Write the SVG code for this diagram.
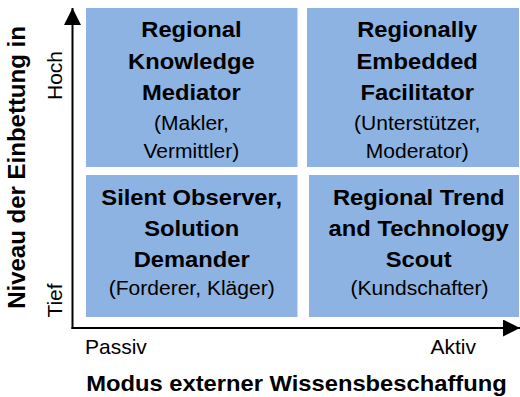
<svg xmlns="http://www.w3.org/2000/svg" width="520" height="397" viewBox="0 0 520 397">
<style>
.box{fill:#8DB3E2;stroke:none}
.t{font-family:"Liberation Sans",Arial,sans-serif;fill:#000;text-anchor:middle}
.b{font-weight:bold;font-size:22px}
.n{font-size:19.5px}
.ax{font-family:"Liberation Sans",Arial,sans-serif;fill:#000;font-size:21px}
.axis{stroke:#000;stroke-width:2;fill:none}
</style>
<defs>
<marker id="arr" markerUnits="userSpaceOnUse" markerWidth="17" markerHeight="17" refX="16" refY="8" orient="auto" viewBox="0 0 16 16">
<path d="M0,0 L16,8 L0,16 Z" fill="#000"/>
</marker>
</defs>
<rect width="520" height="397" fill="#fff"/>
<g id="connectors">
<line class="axis" x1="72.5" y1="329" x2="72.5" y2="8" marker-end="url(#arr)"/>
<line class="axis" x1="71.5" y1="328" x2="520" y2="328" marker-end="url(#arr)"/>
</g>
<g id="node-tl">
<rect class="box" x="86" y="8" width="211.5" height="159"/>
<g transform="scale(1.08 1)">
<text class="t b" x="177.2" y="37.5">Regional</text>
<text class="t b" x="177.2" y="69">Knowledge</text>
<text class="t b" x="177.2" y="100.5">Mediator</text>
<text class="t n" x="177.2" y="130.5">(Makler,</text>
<text class="t n" x="177.2" y="158">Vermittler)</text>
</g>
</g>
<g id="node-tr">
<rect class="box" x="307" y="8" width="212" height="159"/>
<g transform="scale(1.08 1)">
<text class="t b" x="386.3" y="37.5">Regionally</text>
<text class="t b" x="386.3" y="69">Embedded</text>
<text class="t b" x="386.3" y="100.5">Facilitator</text>
<text class="t n" x="386.3" y="130.5">(Unterstützer,</text>
<text class="t n" x="386.3" y="158">Moderator)</text>
</g>
</g>
<g id="node-bl">
<rect class="box" x="86" y="175" width="211.5" height="142"/>
<g transform="scale(1.08 1)">
<text class="t b" x="177.5" y="205">Silent Observer,</text>
<text class="t b" x="177.5" y="236">Solution</text>
<text class="t b" x="177.5" y="267.5">Demander</text>
<text class="t n" x="177.5" y="295.5">(Forderer, Kläger)</text>
</g>
</g>
<g id="node-br">
<rect class="box" x="309" y="175" width="210" height="142"/>
<g transform="scale(1.08 1)">
<text class="t b" x="387.7" y="205">Regional Trend</text>
<text class="t b" x="387.7" y="236">and Technology</text>
<text class="t b" x="387.7" y="267.5">Scout</text>
<text class="t n" x="388.5" y="295.5">(Kundschafter)</text>
</g>
</g>
<g id="axis-labels">
<text class="ax" x="85" y="354">Passiv</text>
<text class="ax" x="476" y="354" text-anchor="end">Aktiv</text>
<g transform="scale(1.08 1)">
<text class="t b" x="274.5" y="391">Modus externer Wissensbeschaffung</text>
</g>
<text class="ax" transform="translate(61.7 75.5) rotate(-90)" text-anchor="middle">Hoch</text>
<text class="ax" transform="translate(61.7 300.5) rotate(-90)" text-anchor="middle">Tief</text>
<text transform="translate(25 167.5) rotate(-90)" text-anchor="middle" font-family="Liberation Sans, Arial, sans-serif" font-weight="bold" font-size="24">Niveau der Einbettung in</text>
</g>
</svg>
